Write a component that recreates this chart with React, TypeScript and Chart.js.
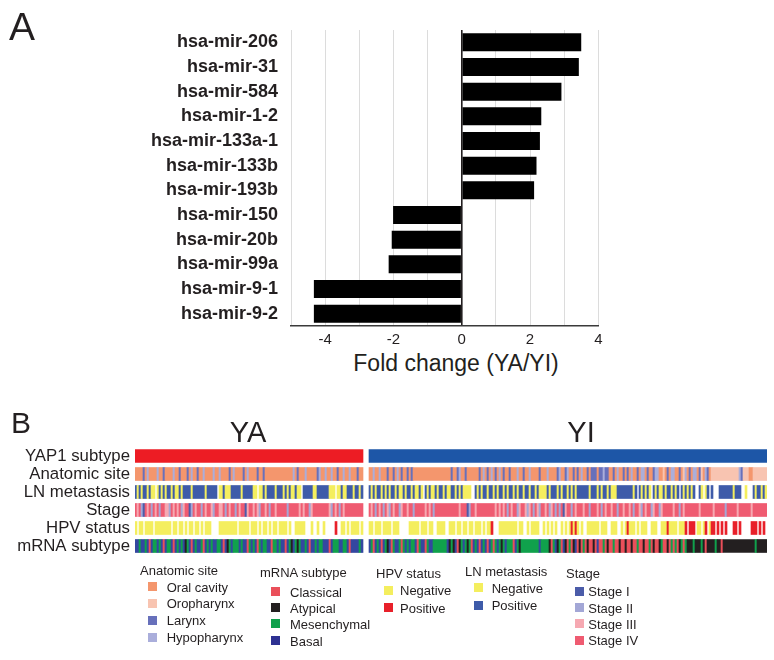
import React, { useEffect, useRef } from "react";
import { Chart, registerables } from "chart.js";

Chart.register(...registerables);

const FONT = '"Liberation Sans", Arial, Helvetica, sans-serif';
const INK = "#231f20";

// ---------- Panel A data ----------
const mirnaLabels = [
  "hsa-mir-206",
  "hsa-mir-31",
  "hsa-mir-584",
  "hsa-mir-1-2",
  "hsa-mir-133a-1",
  "hsa-mir-133b",
  "hsa-mir-193b",
  "hsa-mir-150",
  "hsa-mir-20b",
  "hsa-mir-99a",
  "hsa-mir-9-1",
  "hsa-mir-9-2",
];
const foldChange = [3.5, 3.43, 2.92, 2.33, 2.29, 2.19, 2.12, -2.01, -2.05, -2.14, -4.33, -4.33];
const foldAxisMin = -5;
const foldAxisMax = 4;
const foldAxisTitle = "Fold change (YA/YI)";

// ---------- Panel B data ----------
const trackLabels = ["YAP1 subtype", "Anatomic site", "LN metastasis", "Stage", "HPV status", "mRNA subtype"];
const groupNames = ["YA", "YI"];
const groupSampleCounts = [114, 199];

// one character per sample; "." = not available
const anatomicYA = ["OOOOLOHOOO","OHOOLOOOOH","OOLOOOLOHO","OLOOHOOOOH","OOHOOOOLOH","OOOOLOHOOO","OLOOLOOOOO","OOOOOOOOOH","OLOOOHOOOO","OLHOOHOOHO","OLOOHOOHOO","OLOO"].join("");
const anatomicYI = ["OOHOOHOOOL","OOLOHOLOOL","OLOOOOOOOO","OOOOOOOOOO","OLOOLHOOLO","OOOOOLOHOL","OHOLOHOLOO","LOOOHOOLOO","HOOOOLOOOH","OOOOLHOOLH","OOLOLOHOOL","OLLLOLLHLL","OOLOHOOLOL","OHOOLOHHOL","OOLHHOOPOL","OHHOOLOPHO","LOHHOLPOHL","OPPPPPPPPP","PPPPPHLPPP","OOPPPPPPP"].join("");
const lnYA = ["PNPNPPNPNN",".NPNPNPPNP","NNPNP","PPPNPPPP","PPNPPPPP.","NNPNNNP","PPPPNPPPPP","NN.NNPN","PPPPNPPP","NP","NPNNPNN",".","PPPPP","NN","PPPPPP","NNN",".","NNPNN","PPPNPP","NP"].join("");
const lnYI = ["PNPNPPNPNP","NPPNPNNPNP","PNPNNPN.PN","PNNPNPPNPN","NPPNPNPNNN","N..PN","PNPPNPPNPNPPNPN","PPNPNPPNPP","NPPNPNNNNP","NPPPNPNPPN","PNPNPPPPPPNP","PPNPNPPN","PNNNPPPPPP","PPNP.PNPNP","N.PNPNNPNP","PNPNP.PNPN","PNP..PN.NP",".P...PPPPP","PPNPPP..N.","..PNPPNPN"].join("");
const stageYA = ["4342143424","3424433243","4342344124","3442434432","4433424344","2434413443","4324434244","3444442444","4434344234","4444444324","3424344444","4444"].join("");
const stageYI = ["4342434243","2434423443","4424444434","3424444444","4444434441","2443444444","4443434342","4344234432","3424324434","2342424134","4243444344","2444342434","4344244344","3424432434","4234423444","4434424344","4444434444","4434444424","4444344444","434444444"].join("");
const hpvYA = ["N.NN.NNNN.","NNNNNNNN.N","N.NN.N.NN.","NN.N.NNN..","..NNNNNNNN","N.NNNNN.NN","N.N.NN.N.N","N.NNNN.N..","NNNNN...N.",".N..N.....","P..NN.N.NN","NN.N"].join("");
const hpvYI = ["NN.NNN.NNN","N.NNN.....","NNNNN.NNN.","NN..NNNN..","NNN.NN.NN.","NN.NNN.N.N","NP...NNNNN","NNNN.NN..N",".NNNN..N.N",".N.N..N.N.","NPNPN.N..N","NNNNN.NNN.",".NNN..N.NP","NNN.N.NNN.",".NNN..NNNP","NNNN.NNNP.","PPP.NN.NP.","NPP.P.P.P.","..PP.P....",".PPP.P.P."].join("");
const mrnaYA = ["BBMBBMBCBM","MBMBCBMMBC","BMBMBAMBCB","MBBMCBMBMB","BMMBCBAMBM","MMBMBBCMBM","BCMBMMBBCM","MBMBBCBMAB","MAMBBMBCBB","MBMMBBBCBM","MMBBMMBCBB","BBMB"].join("");
const mrnaYI = ["BMCBMBCBMA","BCMBBMCMBM","BMMBCMBBCM","BBMMMMMMMB","AMABCAMBMA","MCBMBCBMBC","BMCMBMAMBM","MMCBMAMMMM","MMMMMBMMMM","ACMBAMCBAC","MCABCACMCA","CCACBCCMCA","CCMCCACCAC","CACCMCCACC","MCACCAMCCA","CMCMCAMCMA","AAMAAAMACA","AAAMAACAAA","AAAAAAAAAA","AAAMAAAAA"].join("");

// colours per category code
const yap1Colors: Record<string, string> = { YA: "#ed1c24", YI: "#1d56a7" };
const anatomicColors: Record<string, string> = { O: "#f4966d", P: "#f8c4b1", L: "#6770bb", H: "#aaaedb" };
const lnColors: Record<string, string> = { N: "#f4ee5e", P: "#3e5ba9" };
const stageColors: Record<string, string> = { "1": "#4b5ca9", "2": "#a3a7d6", "3": "#f6a9b2", "4": "#ef5b71" };
const hpvColors: Record<string, string> = { N: "#f4ee5e", P: "#e8202a" };
const mrnaColors: Record<string, string> = { C: "#ea4f5a", A: "#231f20", M: "#10a14c", B: "#3447a0" };

// legend
const legendGroups = [
  { title: "Anatomic site", items: [["Oral cavity", anatomicColors.O], ["Oropharynx", anatomicColors.P], ["Larynx", anatomicColors.L], ["Hypopharynx", anatomicColors.H]] },
  { title: "mRNA subtype", items: [["Classical", mrnaColors.C], ["Atypical", mrnaColors.A], ["Mesenchymal", mrnaColors.M], ["Basal", "#2e3192"]] },
  { title: "HPV status", items: [["Negative", hpvColors.N], ["Positive", hpvColors.P]] },
  { title: "LN metastasis", items: [["Negative", lnColors.N], ["Positive", lnColors.P]] },
  { title: "Stage", items: [["Stage I", stageColors["1"]], ["Stage II", stageColors["2"]], ["Stage III", stageColors["3"]], ["Stage IV", stageColors["4"]]] },
];
// layout of legend columns (x of title, x of swatch, x of text, title baseline, item baselines)
const legendLayout = [
  { tx: 140, sx: 148, ix: 166.7, tb: 575.5, ib: [591.7, 608.3, 625, 642] },
  { tx: 260, sx: 270.5, ix: 290, tb: 577, ib: [596.7, 612.8, 628.6, 645.6] },
  { tx: 376, sx: 383.5, ix: 400, tb: 578, ib: [595, 612.6] },
  { tx: 465, sx: 473.5, ix: 491.7, tb: 576, ib: [592.7, 610.5] },
  { tx: 566, sx: 575, ix: 588.3, tb: 578, ib: [596, 612.6, 628.6, 645] },
];

const GROUP_GAP = 3;

function Txt(props: { x: number; baseline: number; size: number; text: string; center?: boolean; weight?: string }) {
  const { x, baseline, size, text, center, weight } = props;
  return (
    <div
      style={{
        position: "absolute",
        left: x,
        top: baseline - 0.8465 * size,
        fontFamily: FONT,
        fontSize: size,
        lineHeight: `${size}px`,
        color: INK,
        whiteSpace: "nowrap",
        fontWeight: weight || "normal",
        transform: center ? "translateX(-50%)" : undefined,
      }}
    >
      {text}
    </div>
  );
}

export default function App() {
  const refA = useRef<HTMLCanvasElement | null>(null);
  const refB = useRef<HTMLCanvasElement | null>(null);

  useEffect(() => {
    const chartA = new Chart(refA.current as HTMLCanvasElement, {
      type: "bar",
      data: {
        labels: mirnaLabels,
        datasets: [
          {
            data: foldChange,
            backgroundColor: "#000000",
            borderWidth: 0,
            barPercentage: 0.73,
            categoryPercentage: 1,
          },
        ],
      },
      options: {
        indexAxis: "y",
        animation: false,
        responsive: false,
        events: [],
        layout: { padding: { left: 0, right: 774 - 598.3, top: 30, bottom: 0 } },
        plugins: { legend: { display: false }, tooltip: { enabled: false } },
        scales: {
          x: {
            type: "linear",
            min: foldAxisMin,
            max: foldAxisMax,
            ticks: {
              stepSize: 1,
              autoSkip: false,
              maxRotation: 0,
              padding: 5,
              color: INK,
              font: { family: FONT, size: 15 },
              callback: (v: any) => (Number(v) % 2 === 0 ? String(v) : ""),
            },
            grid: {
              drawTicks: false,
              color: (ctx: any) => (ctx.tick && ctx.tick.value === 0 ? "#231f20" : "#dcdcdc"),
              lineWidth: (ctx: any) => (ctx.tick && ctx.tick.value === 0 ? 1.6 : 1),
            },
            border: { display: true, color: "#3a3a3a", width: 1.6 },
            afterFit: (s: any) => {
              s.height = 24;
            },
          },
          y: {
            ticks: {
              padding: 13,
              autoSkip: false,
              color: INK,
              font: { family: FONT, size: 18, weight: "bold", lineHeight: 1 },
            },
            grid: { display: false, drawTicks: false },
            border: { display: false },
            afterFit: (s: any) => {
              s.width = 291;
            },
          },
        },
      },
    });

    // ----- panel B -----
    const offsets = [0, groupSampleCounts[0] + GROUP_GAP];
    const total = groupSampleCounts[0] + GROUP_GAP + groupSampleCounts[1];

    const runsFor = (label: string, strs: string[], colors: Record<string, string>) => {
      const data: any[] = [];
      const bg: string[] = [];
      strs.forEach((s, g) => {
        const unit = groupSampleCounts[g] / s.length;
        let i = 0;
        while (i < s.length) {
          const c = s[i];
          let j = i + 1;
          while (j < s.length && s[j] === c) j++;
          if (c !== "." && colors[c]) {
            data.push({ y: label, x: [offsets[g] + i * unit, offsets[g] + j * unit] });
            bg.push(colors[c]);
          }
          i = j;
        }
      });
      return { data, backgroundColor: bg };
    };

    const yap1 = {
      data: groupNames.map((g, k) => ({ y: trackLabels[0], x: [offsets[k], offsets[k] + groupSampleCounts[k]] })),
      backgroundColor: groupNames.map((g) => yap1Colors[g]),
    };

    const tracks = [
      yap1,
      runsFor(trackLabels[1], [anatomicYA, anatomicYI], anatomicColors),
      runsFor(trackLabels[2], [lnYA, lnYI], lnColors),
      runsFor(trackLabels[3], [stageYA, stageYI], stageColors),
      runsFor(trackLabels[4], [hpvYA, hpvYI], hpvColors),
      runsFor(trackLabels[5], [mrnaYA, mrnaYI], mrnaColors),
    ];

    const chartB = new Chart(refB.current as HTMLCanvasElement, {
      type: "bar",
      data: {
        labels: trackLabels,
        datasets: tracks.map((t) => ({
          data: t.data,
          backgroundColor: t.backgroundColor,
          borderWidth: 0,
          barThickness: 13,
          grouped: false,
        })) as any,
      },
      options: {
        indexAxis: "y",
        animation: false,
        responsive: false,
        events: [],
        layout: { padding: { left: 0, right: 7, top: 24, bottom: 24 } },
        plugins: { legend: { display: false }, tooltip: { enabled: false } },
        scales: {
          x: { type: "linear", min: 0, max: total, display: false },
          y: {
            type: "category",
            offset: true,
            ticks: { padding: 5, autoSkip: false, color: INK, font: { family: FONT, size: 16.8, lineHeight: 1 } },
            grid: { display: false, drawTicks: false },
            border: { display: false },
            afterFit: (s: any) => {
              s.width = 135;
            },
          },
        },
      },
    });

    return () => {
      chartA.destroy();
      chartB.destroy();
    };
  }, []);

  return (
    <div style={{ position: "absolute", left: 0, top: 0, width: 774, height: 660, background: "#ffffff", overflow: "hidden" }}>
      <canvas ref={refA} width={774} height={350} style={{ position: "absolute", left: 0, top: 0, width: 774, height: 350 }} />
      <canvas ref={refB} width={774} height={156} style={{ position: "absolute", left: 0, top: 422.5, width: 774, height: 156 }} />

      <Txt x={9} baseline={40} size={39} text="A" />
      <Txt x={11} baseline={433.3} size={30} text="B" />
      <Txt x={456} baseline={371.7} size={23} text={foldAxisTitle} center />
      <Txt x={248} baseline={442.7} size={29} text={groupNames[0]} center />
      <Txt x={581} baseline={442.7} size={29} text={groupNames[1]} center />

      {legendGroups.map((g, gi) => {
        const L = legendLayout[gi];
        return (
          <React.Fragment key={g.title}>
            <Txt x={L.tx} baseline={L.tb} size={13} text={g.title} />
            {g.items.map((it, ii) => (
              <React.Fragment key={it[0]}>
                <div
                  style={{
                    position: "absolute",
                    left: L.sx,
                    top: L.ib[ii] - 9.5,
                    width: 9,
                    height: 9,
                    background: it[1],
                  }}
                />
                <Txt x={L.ix} baseline={L.ib[ii]} size={13} text={it[0]} />
              </React.Fragment>
            ))}
          </React.Fragment>
        );
      })}
    </div>
  );
}
